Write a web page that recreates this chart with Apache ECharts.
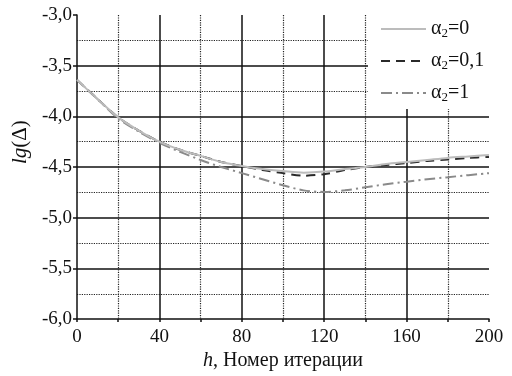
<!DOCTYPE html>
<html>
<head>
<meta charset="UTF-8">
<script src="https://cdn.jsdelivr.net/npm/echarts@6/dist/echarts.min.js"></script>
<style>
  body { margin: 0; background: #fff; }
  #chart { width: 512px; height: 376px; }
</style>
</head>
<body>
<div id="chart"></div>
<script>
// номера итераций
const iters = [0, 10, 20, 30, 40, 50, 60, 70, 80, 90, 100, 110, 120, 130, 140, 150, 160, 170, 180, 190, 200];
// lg(Δ) для разных α2
const alpha0   = [-3.64, -3.83, -4.01, -4.14, -4.25, -4.33, -4.39, -4.45, -4.49, -4.52, -4.54, -4.555, -4.545, -4.52, -4.50, -4.47, -4.45, -4.43, -4.41, -4.395, -4.38];
const alpha01  = [-3.64, -3.83, -4.01, -4.14, -4.25, -4.33, -4.39, -4.45, -4.49, -4.53, -4.56, -4.585, -4.57, -4.53, -4.50, -4.48, -4.46, -4.44, -4.425, -4.41, -4.40];
const alpha1   = [-3.64, -3.83, -4.02, -4.15, -4.26, -4.35, -4.43, -4.50, -4.56, -4.62, -4.68, -4.73, -4.745, -4.73, -4.70, -4.67, -4.645, -4.62, -4.60, -4.58, -4.56];
const seriesNames = ['α2=0', 'α2=0,1', 'α2=1'];

const font = 'Liberation Serif';
const pair = arr => arr.map((v, i) => [iters[i], v]);

const chart = echarts.init(document.getElementById('chart'));
chart.setOption({
  animation: false,
  grid: { left: 77, right: 23, top: 15, bottom: 54 },
  legend: {
    orient: 'vertical',
    left: 368, top: 15,
    backgroundColor: '#fff',
    padding: [3, 10, 5, 12],
    itemWidth: 45, itemHeight: 14, itemGap: 10,
    itemStyle: { opacity: 0 },
    data: seriesNames,
    formatter: name => '{a|α}{s|2}{a|' + name.slice(2) + '}',
    textStyle: {
      fontFamily: font, color: '#111',
      rich: {
        a: { fontFamily: font, fontSize: 20, color: '#111', lineHeight: 22 },
        s: { fontFamily: font, fontSize: 13, color: '#111', lineHeight: 22, verticalAlign: 'bottom', padding: [9, 0, 0, 0] }
      }
    }
  },
  xAxis: {
    type: 'value', min: 0, max: 200, interval: 40,
    name: '{i|h}, Номер итерации',
    nameLocation: 'middle', nameGap: 31,
    nameTextStyle: {
      fontFamily: font, fontSize: 20, color: '#111',
      rich: { i: { fontFamily: font, fontSize: 20, fontStyle: 'italic', color: '#111' } }
    },
    axisLine: { lineStyle: { color: '#111', width: 1.5 } },
    axisTick: { show: true, length: 3, lineStyle: { color: '#111', width: 1.5 } },
    minorTick: { show: true, splitNumber: 2, length: 3, lineStyle: { color: '#111', width: 1.5 } },
    axisLabel: { fontFamily: font, fontSize: 19, color: '#111', margin: 8 },
    splitLine: { show: true, showMinLine: false, showMaxLine: false, lineStyle: { color: '#111', width: 1.5 } },
    minorSplitLine: { show: true, lineStyle: { color: '#222', type: 'dotted', width: 1.2 } }
  },
  yAxis: {
    type: 'value', min: -6, max: -3, interval: 0.5,
    name: '{i|lg}(Δ)',
    nameLocation: 'middle', nameGap: 44, nameRotate: 90,
    nameTextStyle: {
      fontFamily: font, fontSize: 21, color: '#111', padding: [0, 0, 0, 50],
      rich: { i: { fontFamily: font, fontSize: 21, fontStyle: 'italic', color: '#111' } }
    },
    axisLine: { show: true, lineStyle: { color: '#111', width: 1.5 } },
    axisTick: { show: true, length: 4, lineStyle: { color: '#111', width: 1.5 } },
    axisLabel: {
      fontFamily: font, fontSize: 19, color: '#111', margin: 5,
      formatter: v => v.toFixed(1).replace('.', ',')
    },
    minorTick: { show: false, splitNumber: 2 },
    splitLine: { show: true, showMinLine: false, showMaxLine: false, lineStyle: { color: '#111', width: 1.5 } },
    minorSplitLine: { show: true, lineStyle: { color: '#222', type: 'dotted', width: 1.2 } }
  },
  series: [
    {
      name: seriesNames[0], type: 'line', data: pair(alpha0), smooth: 0.3,
      symbol: 'none', z: 4,
      lineStyle: { color: '#bcbcbc', width: 2 }, itemStyle: { color: '#bcbcbc' }
    },
    {
      name: seriesNames[1], type: 'line', data: pair(alpha01), smooth: 0.3,
      symbol: 'none', z: 3,
      lineStyle: { color: '#2a2a2a', width: 2, type: [9, 6] }, itemStyle: { color: '#2a2a2a' }
    },
    {
      name: seriesNames[2], type: 'line', data: pair(alpha1), smooth: 0.3,
      symbol: 'none', z: 3,
      lineStyle: { color: '#8a8a8a', width: 2, type: [11, 4, 2, 4] }, itemStyle: { color: '#8a8a8a' }
    }
  ]
});
</script>
</body>
</html>
